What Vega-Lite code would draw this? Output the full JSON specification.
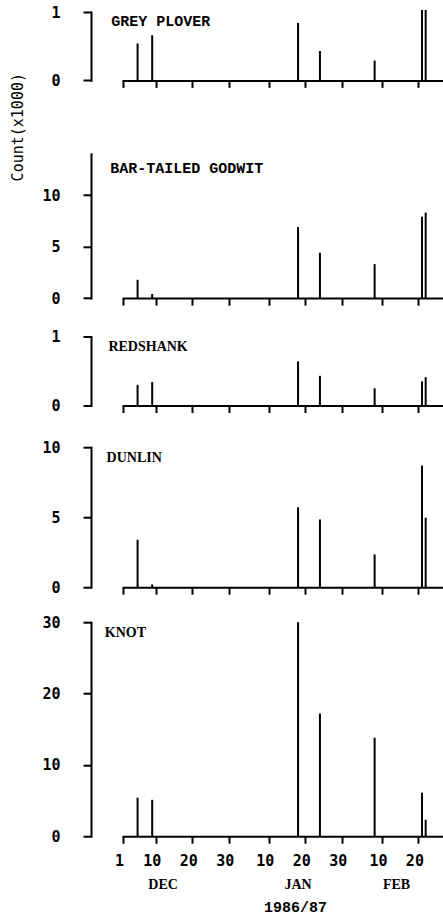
{
  "$schema": "https://vega.github.io/schema/vega-lite/v6.json",
  "padding": {"left": 10, "top": 5, "right": 0, "bottom": 4},
  "background": "white",
  "title": {"text": "Count(x1000)", "orient": "left", "anchor": "end", "font": "DejaVu Sans Mono", "fontSize": 15, "fontWeight": "normal", "color": "#000", "offset": 16, "dx": -68},
  "datasets": {
    "counts": [
      {"species": "GREY PLOVER", "date": "1986-12-05", "count": 0.54},
      {"species": "GREY PLOVER", "date": "1986-12-09", "count": 0.66},
      {"species": "GREY PLOVER", "date": "1987-01-18", "count": 0.84},
      {"species": "GREY PLOVER", "date": "1987-01-24", "count": 0.43},
      {"species": "GREY PLOVER", "date": "1987-02-08", "count": 0.29},
      {"species": "GREY PLOVER", "date": "1987-02-21", "count": 1.03},
      {"species": "GREY PLOVER", "date": "1987-02-22", "count": 1.03},
      {"species": "BAR-TAILED GODWIT", "date": "1986-12-05", "count": 1.78},
      {"species": "BAR-TAILED GODWIT", "date": "1986-12-09", "count": 0.4},
      {"species": "BAR-TAILED GODWIT", "date": "1987-01-18", "count": 6.9},
      {"species": "BAR-TAILED GODWIT", "date": "1987-01-24", "count": 4.4},
      {"species": "BAR-TAILED GODWIT", "date": "1987-02-08", "count": 3.3},
      {"species": "BAR-TAILED GODWIT", "date": "1987-02-21", "count": 7.9},
      {"species": "BAR-TAILED GODWIT", "date": "1987-02-22", "count": 8.3},
      {"species": "REDSHANK", "date": "1986-12-05", "count": 0.30},
      {"species": "REDSHANK", "date": "1986-12-09", "count": 0.34},
      {"species": "REDSHANK", "date": "1987-01-18", "count": 0.64},
      {"species": "REDSHANK", "date": "1987-01-24", "count": 0.43},
      {"species": "REDSHANK", "date": "1987-02-08", "count": 0.25},
      {"species": "REDSHANK", "date": "1987-02-21", "count": 0.35},
      {"species": "REDSHANK", "date": "1987-02-22", "count": 0.41},
      {"species": "DUNLIN", "date": "1986-12-05", "count": 3.39},
      {"species": "DUNLIN", "date": "1986-12-09", "count": 0.2},
      {"species": "DUNLIN", "date": "1987-01-18", "count": 5.71},
      {"species": "DUNLIN", "date": "1987-01-24", "count": 4.84},
      {"species": "DUNLIN", "date": "1987-02-08", "count": 2.34},
      {"species": "DUNLIN", "date": "1987-02-21", "count": 8.69},
      {"species": "DUNLIN", "date": "1987-02-22", "count": 4.96},
      {"species": "KNOT", "date": "1986-12-05", "count": 5.4},
      {"species": "KNOT", "date": "1986-12-09", "count": 5.1},
      {"species": "KNOT", "date": "1987-01-18", "count": 30.0},
      {"species": "KNOT", "date": "1987-01-24", "count": 17.2},
      {"species": "KNOT", "date": "1987-02-08", "count": 13.8},
      {"species": "KNOT", "date": "1987-02-21", "count": 6.1},
      {"species": "KNOT", "date": "1987-02-22", "count": 2.3}
    ]
  },
  "spacing": 64.8,
  "vconcat": [
    {
      "width": 320, "height": 68.4,
      "layer": [
        {
          "data": {"name": "counts"},
          "transform": [{"filter": "datum.species === 'GREY PLOVER'"}],
          "mark": {"type": "rule", "strokeWidth": 2, "color": "#000"},
          "encoding": {
            "x": {"field": "date", "type": "temporal", "title": null,
              "scale": {"type": "utc", "domain": [{"year": 1986, "month": 12, "date": 1, "utc": true}, {"year": 1987, "month": 2, "date": 26, "hours": 18, "utc": true}]},
              "axis": {"labels": false, "tickCount": 30, "values": [{"year": 1986, "month": 12, "date": 1, "utc": true}, {"year": 1986, "month": 12, "date": 10, "utc": true}, {"year": 1986, "month": 12, "date": 20, "utc": true}, {"year": 1986, "month": 12, "date": 30, "utc": true}, {"year": 1987, "month": 1, "date": 10, "utc": true}, {"year": 1987, "month": 1, "date": 20, "utc": true}, {"year": 1987, "month": 1, "date": 30, "utc": true}, {"year": 1987, "month": 2, "date": 10, "utc": true}, {"year": 1987, "month": 2, "date": 20, "utc": true}]}},
            "y": {"field": "count", "type": "quantitative", "title": null, "scale": {"domain": [0, 1]}, "axis": {"values": [0, 1], "format": "d"}},
            "y2": {"datum": 0}
          }
        },
        {
          "data": {"values": [{"label": "GREY PLOVER"}]},
          "mark": {"type": "text", "align": "left", "baseline": "alphabetic", "font": "Liberation Mono", "fontWeight": "bold", "fontSize": 15, "color": "#000"},
          "encoding": {
            "x": {"datum": {"year": 1986, "month": 11, "date": 27, "hours": 18, "utc": true}, "type": "temporal", "title": null},
            "y": {"datum": 0.8, "type": "quantitative", "title": null},
            "text": {"field": "label"}
          }
        }
      ]
    },
    {
      "spacing": 22.7,
      "vconcat": [
        {
          "width": 320, "height": 144.3,
          "layer": [
            {
              "data": {"name": "counts"},
              "transform": [{"filter": "datum.species === 'BAR-TAILED GODWIT'"}],
              "mark": {"type": "rule", "strokeWidth": 2, "color": "#000"},
              "encoding": {
                "x": {"field": "date", "type": "temporal", "title": null,
                  "scale": {"type": "utc", "domain": [{"year": 1986, "month": 12, "date": 1, "utc": true}, {"year": 1987, "month": 2, "date": 26, "hours": 18, "utc": true}]},
                  "axis": {"labels": false, "tickCount": 30, "values": [{"year": 1986, "month": 12, "date": 1, "utc": true}, {"year": 1986, "month": 12, "date": 10, "utc": true}, {"year": 1986, "month": 12, "date": 20, "utc": true}, {"year": 1986, "month": 12, "date": 30, "utc": true}, {"year": 1987, "month": 1, "date": 10, "utc": true}, {"year": 1987, "month": 1, "date": 20, "utc": true}, {"year": 1987, "month": 1, "date": 30, "utc": true}, {"year": 1987, "month": 2, "date": 10, "utc": true}, {"year": 1987, "month": 2, "date": 20, "utc": true}]}},
                "y": {"field": "count", "type": "quantitative", "title": null, "scale": {"domain": [0, 13.5]}, "axis": {"values": [0, 5, 10], "format": "d"}},
                "y2": {"datum": 0}
              }
            },
            {
              "data": {"values": [{"label": "BAR-TAILED GODWIT"}]},
              "mark": {"type": "text", "align": "left", "baseline": "alphabetic", "font": "Liberation Mono", "fontWeight": "bold", "fontSize": 15, "color": "#000"},
              "encoding": {
                "x": {"datum": {"year": 1986, "month": 11, "date": 27, "hours": 12, "utc": true}, "type": "temporal", "title": null},
                "y": {"datum": 12.13, "type": "quantitative", "title": null},
                "text": {"field": "label"}
              }
            }
          ]
        },
        {
          "spacing": 26.7,
          "vconcat": [
            {
              "width": 320, "height": 69,
              "layer": [
                {
                  "data": {"name": "counts"},
                  "transform": [{"filter": "datum.species === 'REDSHANK'"}],
                  "mark": {"type": "rule", "strokeWidth": 2, "color": "#000"},
                  "encoding": {
                    "x": {"field": "date", "type": "temporal", "title": null,
                      "scale": {"type": "utc", "domain": [{"year": 1986, "month": 12, "date": 1, "utc": true}, {"year": 1987, "month": 2, "date": 26, "hours": 18, "utc": true}]},
                      "axis": {"labels": false, "tickCount": 30, "values": [{"year": 1986, "month": 12, "date": 1, "utc": true}, {"year": 1986, "month": 12, "date": 10, "utc": true}, {"year": 1986, "month": 12, "date": 20, "utc": true}, {"year": 1986, "month": 12, "date": 30, "utc": true}, {"year": 1987, "month": 1, "date": 10, "utc": true}, {"year": 1987, "month": 1, "date": 20, "utc": true}, {"year": 1987, "month": 1, "date": 30, "utc": true}, {"year": 1987, "month": 2, "date": 10, "utc": true}, {"year": 1987, "month": 2, "date": 20, "utc": true}]}},
                    "y": {"field": "count", "type": "quantitative", "title": null, "scale": {"domain": [0, 1]}, "axis": {"values": [0, 1], "format": "d"}},
                    "y2": {"datum": 0}
                  }
                },
                {
                  "data": {"values": [{"label": "REDSHANK"}]},
                  "mark": {"type": "text", "align": "left", "baseline": "alphabetic", "font": "Liberation Serif", "fontWeight": "bold", "fontSize": 14, "color": "#000"},
                  "encoding": {
                    "x": {"datum": {"year": 1986, "month": 11, "date": 27, "utc": true}, "type": "temporal", "title": null},
                    "y": {"datum": 0.787, "type": "quantitative", "title": null},
                    "text": {"field": "label"}
                  }
                }
              ]
            },
            {
              "spacing": 20,
              "vconcat": [
                {
                  "width": 320, "height": 140,
                  "layer": [
                    {
                      "data": {"name": "counts"},
                      "transform": [{"filter": "datum.species === 'DUNLIN'"}],
                      "mark": {"type": "rule", "strokeWidth": 2, "color": "#000"},
                      "encoding": {
                        "x": {"field": "date", "type": "temporal", "title": null,
                          "scale": {"type": "utc", "domain": [{"year": 1986, "month": 12, "date": 1, "utc": true}, {"year": 1987, "month": 2, "date": 26, "hours": 18, "utc": true}]},
                          "axis": {"labels": false, "tickCount": 30, "values": [{"year": 1986, "month": 12, "date": 1, "utc": true}, {"year": 1986, "month": 12, "date": 10, "utc": true}, {"year": 1986, "month": 12, "date": 20, "utc": true}, {"year": 1986, "month": 12, "date": 30, "utc": true}, {"year": 1987, "month": 1, "date": 10, "utc": true}, {"year": 1987, "month": 1, "date": 20, "utc": true}, {"year": 1987, "month": 1, "date": 30, "utc": true}, {"year": 1987, "month": 2, "date": 10, "utc": true}, {"year": 1987, "month": 2, "date": 20, "utc": true}]}},
                        "y": {"field": "count", "type": "quantitative", "title": null, "scale": {"domain": [0, 10]}, "axis": {"values": [0, 5, 10], "format": "d"}},
                        "y2": {"datum": 0}
                      }
                    },
                    {
                      "data": {"values": [{"label": "DUNLIN"}]},
                      "mark": {"type": "text", "align": "left", "baseline": "alphabetic", "font": "Liberation Serif", "fontWeight": "bold", "fontSize": 14, "color": "#000"},
                      "encoding": {
                        "x": {"datum": {"year": 1986, "month": 11, "date": 26, "hours": 12, "utc": true}, "type": "temporal", "title": null},
                        "y": {"datum": 8.93, "type": "quantitative", "title": null},
                        "text": {"field": "label"}
                      }
                    }
                  ]
                },
                {
                  "width": 320, "height": 214,
                  "layer": [
                    {
                      "data": {"name": "counts"},
                      "transform": [{"filter": "datum.species === 'KNOT'"}],
                      "mark": {"type": "rule", "strokeWidth": 2, "color": "#000"},
                      "encoding": {
                        "x": {"field": "date", "type": "temporal",
                          "scale": {"type": "utc", "domain": [{"year": 1986, "month": 12, "date": 1, "utc": true}, {"year": 1987, "month": 2, "date": 26, "hours": 18, "utc": true}]},
                          "axis": {"title": "1986/87", "tickCount": 30, "labelExpr": "utcFormat(datum.value, '%-d')", "labelOverlap": false, "labelBound": false, "labelFlush": false, "titleFont": "Liberation Mono", "titleFontWeight": "bold", "titleFontSize": 15, "titleColor": "#000", "titleX": 172, "titleY": 75, "titleBaseline": "alphabetic", "titleAlign": "center",
                            "values": [{"year": 1986, "month": 12, "date": 1, "utc": true}, {"year": 1986, "month": 12, "date": 10, "utc": true}, {"year": 1986, "month": 12, "date": 20, "utc": true}, {"year": 1986, "month": 12, "date": 30, "utc": true}, {"year": 1987, "month": 1, "date": 10, "utc": true}, {"year": 1987, "month": 1, "date": 20, "utc": true}, {"year": 1987, "month": 1, "date": 30, "utc": true}, {"year": 1987, "month": 2, "date": 10, "utc": true}, {"year": 1987, "month": 2, "date": 20, "utc": true}]}},
                        "y": {"field": "count", "type": "quantitative", "title": null, "scale": {"domain": [0, 30]}, "axis": {"values": [0, 10, 20, 30], "format": "d"}},
                        "y2": {"datum": 0}
                      }
                    },
                    {
                      "data": {"values": [{"label": "KNOT"}]},
                      "mark": {"type": "text", "align": "left", "baseline": "alphabetic", "font": "Liberation Serif", "fontWeight": "bold", "fontSize": 14, "color": "#000"},
                      "encoding": {
                        "x": {"datum": {"year": 1986, "month": 11, "date": 26, "utc": true}, "type": "temporal"},
                        "y": {"datum": 27.9, "type": "quantitative", "title": null},
                        "text": {"field": "label"}
                      }
                    },
                    {
                      "data": {"values": [{"date": "1986-12-12", "month": "DEC"}, {"date": "1987-01-18", "month": "JAN"}, {"date": "1987-02-14", "month": "FEB"}]},
                      "mark": {"type": "text", "align": "center", "baseline": "alphabetic", "font": "Liberation Serif", "fontWeight": "bold", "fontSize": 14, "color": "#000"},
                      "encoding": {
                        "x": {"field": "date", "type": "temporal"},
                        "y": {"datum": -7.4, "type": "quantitative", "title": null},
                        "text": {"field": "month"}
                      }
                    }
                  ]
                }
              ]
            }
          ]
        }
      ]
    }
  ],
  "config": {
    "view": {"stroke": null},
    "axis": {"grid": false, "domainColor": "#000", "tickColor": "#000", "labelColor": "#000", "titleColor": "#000", "domainWidth": 2, "tickWidth": 2, "labelFont": "DejaVu Sans Mono", "labelFontSize": 15, "labelFontWeight": "bold", "domainCap": "square"},
    "axisX": {"tickSize": 7, "labelPadding": 22, "labelBaseline": "alphabetic", "labelOffset": -4, "labelFlush": false},
    "axisY": {"tickSize": 8, "labelPadding": 23, "offset": 32}
  }
}
